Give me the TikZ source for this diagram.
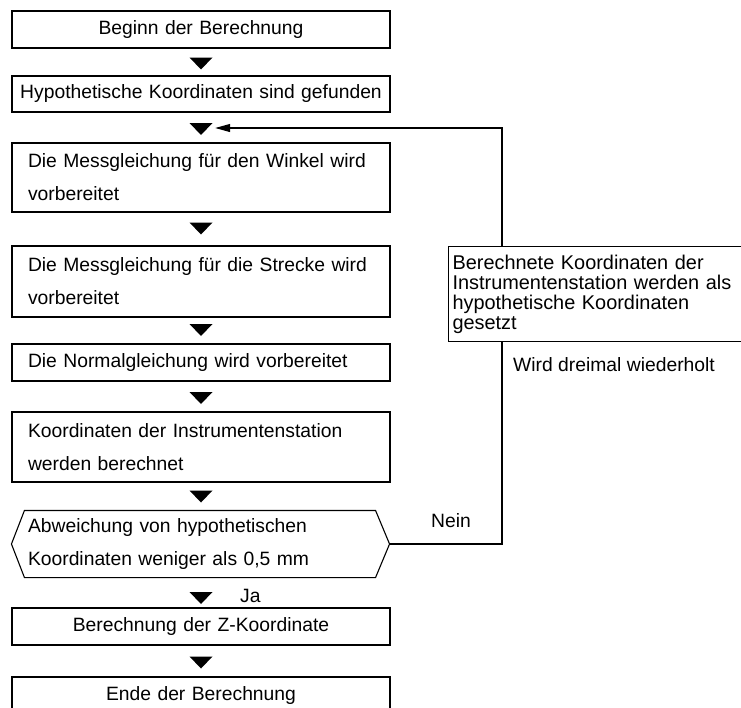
\documentclass[tikz,border=0pt]{standalone}
\usepackage{fontspec}
\setmainfont{Liberation Sans}
\usetikzlibrary{arrows.meta,calc}
\tikzset{
  flowbox/.style={
    draw,
    line width=1.1pt,
    text width=346pt,
    inner xsep=16pt,
    inner ysep=0pt,
    align=left,
    font=\fontsize{19.3}{33}\selectfont
  },
  centerbox/.style={
    flowbox,
    text width=370pt,
    inner xsep=4pt,
    align=center
  },
  sidebox/.style={
    draw,
    fill=white,
    line width=1.1pt,
    text width=300pt,
    inner xsep=4pt,
    align=left,
    font=\fontsize{19.9}{20}\selectfont
  },
  arrowtri/.style={
    inner sep=0pt,
    minimum width=23pt,
    minimum height=12pt,
    path picture={
      \fill (path picture bounding box.north west) -- (path picture bounding box.north east)
        -- (path picture bounding box.south) -- cycle;
    }
  },
  looparrow/.style={
    line width=1.1pt,
    -{Triangle[length=15pt,width=8pt]}
  },
  lbl/.style={
    inner sep=0pt,
    font=\fontsize{19.3}{20}\selectfont
  }
}

\begin{document}
\begin{tikzpicture}[x=1pt,y=-1pt]
  \useasboundingbox (0,0) rectangle (741,707);
  \clip (0,0) rectangle (741,707);

  \node[centerbox, minimum height=37pt] (b1) at (201,29.5) {Beginn der Berechnung};
  \node[centerbox, minimum height=36pt] (b2) at (201,94) {Hypothetische Koordinaten sind gefunden};
  \node[flowbox, minimum height=69pt] (b3) at (201,177.5) {Die Messgleichung für den Winkel wird\\vorbereitet};
  \node[flowbox, minimum height=71pt] (b4) at (201,281.5) {Die Messgleichung für die Strecke wird\\vorbereitet};
  \node[flowbox, minimum height=37pt] (b5) at (201,362.5) {Die Normalgleichung wird vorbereitet};
  \node[flowbox, minimum height=70pt] (b6) at (201,447) {Koordinaten der Instrumentenstation\\werden berechnet};
  \node[flowbox, draw=none, text width=344pt, inner xsep=3pt, minimum height=66pt] (hex) at (200,544) {Abweichung von hypothetischen\\Koordinaten weniger als 0,5 mm};
  \node[centerbox, minimum height=37pt] (b7) at (201,626.5) {Berechnung der Z-Koordinate};
  \node[centerbox, minimum height=37pt] (b8) at (201,695.5) {Ende der Berechnung};

  % decision outline
  \coordinate (hexr) at ([xshift=14pt]hex.east);
  \coordinate (hexl) at ([xshift=-13pt]hex.west);
  \draw[line width=1.1pt] (hex.north west) -- (hex.north east) -- (hexr)
    -- (hex.south east) -- (hex.south west) -- (hexl) -- cycle;

  \foreach \y [count=\i] in {63.5,129,228.5,330,398,496.5,598,662.5}{
    \node[arrowtri] (t\i) at (201,\y) {};
  }

  % loop back
  \coordinate (rc) at (502,128);
  \draw[looparrow] (hexr) -| (rc) -- ([xshift=2.5pt]t2.east |- rc);
  \node[sidebox, anchor=north west, minimum height=95pt] (side) at (448,246)
    {Berechnete Koordinaten der\\Instrumentenstation werden als\\hypothetische Koordinaten\\gesetzt};

  \node[lbl] (nein) at (451,521) {Nein};
  \node[lbl, anchor=west] (ja) at (240,596) {Ja};
  \node[lbl, anchor=west] (wdh) at (513,365) {Wird dreimal wiederholt};
\end{tikzpicture}
\end{document}
